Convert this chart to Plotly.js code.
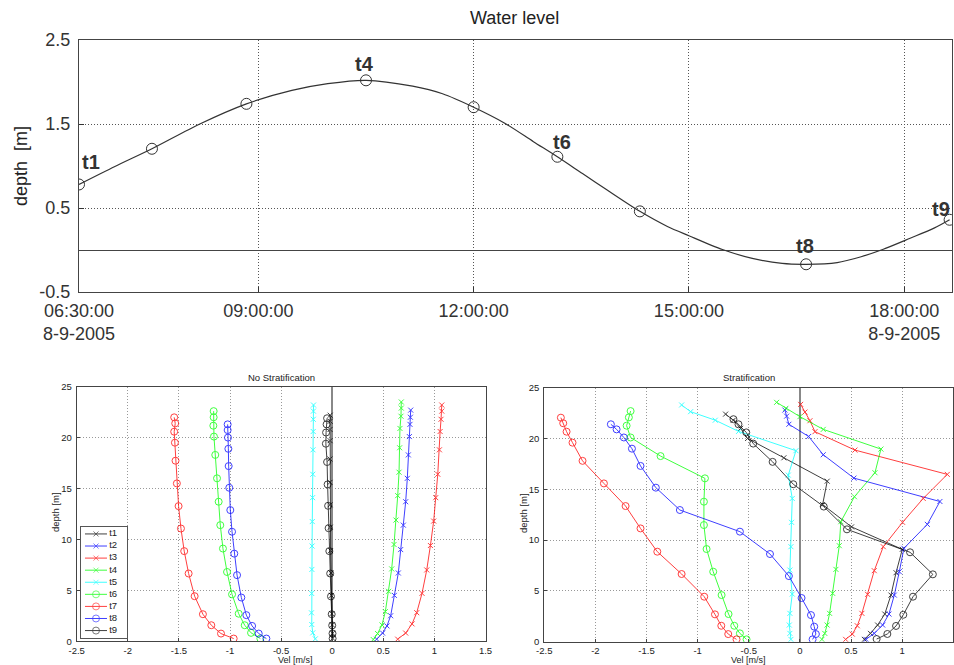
<!DOCTYPE html>
<html><head><meta charset="utf-8">
<script src="https://cdn.plot.ly/plotly-3.0.1.min.js"></script>
<style>html,body{margin:0;padding:0;background:#fff}#chart{width:954px;height:665px}</style>
</head><body><div id="chart"></div>
<script>
// ---------- Water level (top panel) ----------
const day = '2005-09-08 ';
const curveClock = ['06:30','07:00','07:31','08:11','08:50','09:28','09:58','10:30','11:09','11:34','12:00','12:26','12:50','13:10','13:31','13:51','14:19','14:42','15:00','15:28','15:53','16:18','16:38','17:04','17:24','17:42','18:05','18:25','18:38'];
const curveLevel = [0.78,0.994,1.205,1.50,1.74,1.90,1.98,2.02,1.95,1.86,1.70,1.51,1.29,1.11,0.91,0.72,0.46,0.28,0.17,0.006,-0.10,-0.16,-0.17,-0.15,-0.08,0.006,0.14,0.26,0.36];
const sampleNames = ['t1','t2','t3','t4','t5','t6','t7','t8','t9'];
const sampleClock = ['06:30','07:31','08:50','10:30','12:00','13:10','14:19','16:38','18:38'];
const sampleLevel = [0.78,1.205,1.74,2.02,1.70,1.11,0.46,-0.17,0.36];
const labelledSamples = ['t1','t4','t6','t8','t9'];
const timeTickClock = ['06:30','09:00','12:00','15:00','18:00'];
const timeTickText = ['06:30:00<br>8-9-2005','09:00:00','12:00:00','15:00:00','18:00:00<br>8-9-2005'];
const levelTicks = [-0.5,0.5,1.5,2.5];
const levelTickText = ['-0.5','0.5','1.5','2.5'];

// ---------- Velocity profiles ----------
const seriesColors = ['#000000','#0000ff','#ff0000','#00ff00','#00ffff','#00ff00','#ff0000','#0000ff','#000000'];
const seriesSymbols = ['x','x','x','x','x','o','o','o','o'];
const velTicks = [-2.5,-2,-1.5,-1,-0.5,0,0.5,1,1.5];
const velTickText = ['-2.5','-2','-1.5','-1','-0.5','0','0.5','1','1.5'];
const depthTicks = [0,5,10,15,20,25];

// No Stratification
const ns_t1_depth = [22.2,21.6,20.8,19.7,17.9,15.6,13.4,11.2,8.9,6.7,4.5,2.7,1.6,0.78,0.27];
const ns_t1_vel   = [-0.02,-0.02,-0.021,-0.021,-0.022,-0.022,-0.021,-0.019,-0.016,-0.012,-0.008,-0.003,0.001,0.004,0.006];
const ns_t2_depth = [22.7,22.0,21.3,20.1,18.3,16.0,13.7,11.4,9.0,6.7,4.5,2.5,1.5,0.8,0.2];
const ns_t2_vel   = [0.768,0.765,0.761,0.755,0.745,0.735,0.719,0.696,0.670,0.647,0.608,0.572,0.536,0.493,0.435];
const ns_t3_depth = [23.2,22.6,21.8,20.6,18.8,16.4,14.1,11.8,9.4,7.0,4.7,2.8,1.7,0.8,0.2];
const ns_t3_vel   = [1.072,1.072,1.065,1.056,1.049,1.033,1.013,0.993,0.961,0.925,0.879,0.827,0.781,0.719,0.641];
const ns_t4_depth = [23.5,22.9,22.1,20.9,19.0,16.6,14.3,11.9,9.5,7.1,4.9,2.9,1.6,0.75,0.16];
const ns_t4_vel   = [0.676,0.676,0.673,0.663,0.660,0.654,0.641,0.624,0.605,0.582,0.552,0.520,0.487,0.444,0.402];
const ns_t5_depth = [23.2,22.6,21.8,20.6,18.8,16.4,14.1,11.75,9.35,7.05,4.69,2.79,1.64,0.82,0.23];
const ns_t5_vel   = [-0.183,-0.184,-0.185,-0.186,-0.188,-0.190,-0.192,-0.195,-0.197,-0.199,-0.201,-0.203,-0.200,-0.190,-0.165];
const ns_t6_depth = [22.6,22.0,21.17,20.1,18.3,16.0,13.7,11.4,9.1,6.8,4.6,2.7,1.57,0.82,0.26];
const ns_t6_vel   = [-1.160,-1.160,-1.163,-1.157,-1.144,-1.127,-1.111,-1.095,-1.069,-1.029,-0.980,-0.915,-0.856,-0.794,-0.703];
const ns_t7_depth = [21.99,21.4,20.58,19.5,17.73,15.5,13.27,11.07,8.85,6.65,4.42,2.65,1.57,0.75,0.26];
const ns_t7_vel   = [-1.546,-1.536,-1.546,-1.539,-1.533,-1.520,-1.503,-1.480,-1.448,-1.405,-1.346,-1.265,-1.183,-1.088,-0.964];
const ns_t8_depth = [21.3,20.74,20.0,18.9,17.2,15.07,12.88,10.75,8.6,6.49,4.29,2.56,1.5,0.75,0.26];
const ns_t8_vel   = [-1.023,-1.023,-1.020,-1.016,-1.013,-1.007,-0.997,-0.980,-0.958,-0.931,-0.889,-0.840,-0.784,-0.719,-0.644];
const ns_t9_depth = [21.9,21.3,20.5,19.4,17.6,15.4,13.3,11.1,8.85,6.65,4.4,2.65,1.55,0.76,0.26];
const ns_t9_vel   = [-0.05,-0.055,-0.06,-0.062,-0.05,-0.045,-0.04,-0.035,-0.028,-0.02,-0.012,-0.005,0.0,0.003,0.004];

// Stratification
const st_t1_depth = [22.4,21.8,21.0,20.0,18.1,15.8,13.5,11.3,9.09,6.79,4.59,2.72,1.64,0.82,0.23];
const st_t1_vel   = [-0.727,-0.652,-0.58,-0.512,-0.157,0.267,0.222,0.505,1.001,0.94,0.89,0.83,0.76,0.69,0.63];
const st_t2_depth = [22.8,22.2,21.4,20.2,18.4,16.1,13.8,11.55,9.19,6.89,4.59,2.72,1.64,0.82,0.23];
const st_t2_vel   = [-0.147,-0.13,-0.108,0.085,0.228,0.528,1.369,1.246,1.017,0.972,0.923,0.871,0.809,0.727,0.646];
const st_t3_depth = [23.36,22.6,21.75,20.67,18.86,16.47,14.1,11.75,9.35,6.99,4.66,2.79,1.57,0.75,0.23];
const st_t3_vel   = [0.007,0.049,0.098,0.147,0.538,1.441,1.206,1.004,0.815,0.727,0.662,0.606,0.561,0.512,0.447];
const st_t4_depth = [23.56,22.97,22.15,20.9,18.96,16.63,14.27,11.81,9.45,7.12,4.76,2.79,1.64,0.82,0.23];
const st_t4_vel   = [-0.228,-0.137,0.0,0.228,0.792,0.734,0.533,0.40,0.385,0.352,0.32,0.29,0.266,0.243,0.215];
const st_t5_depth = [23.3,22.64,21.8,20.7,18.8,16.4,14.1,11.75,9.35,7.05,4.69,2.79,1.64,0.82,0.23];
const st_t5_vel   = [-1.157,-1.069,-0.828,-0.6,-0.039,-0.114,-0.075,-0.082,-0.088,-0.098,-0.075,-0.098,-0.104,-0.098,-0.088];
const st_t6_depth = [22.7,22.08,21.26,20.1,18.27,16.08,13.78,11.48,9.12,6.89,4.59,2.72,1.57,0.82,0.23];
const st_t6_vel   = [-1.656,-1.673,-1.695,-1.656,-1.363,-0.929,-0.939,-0.939,-0.913,-0.848,-0.766,-0.698,-0.642,-0.587,-0.522];
const st_t7_depth = [22.05,21.5,20.67,19.59,17.8,15.58,13.35,11.15,8.86,6.66,4.43,2.69,1.57,0.75,0.23];
const st_t7_vel   = [-2.338,-2.315,-2.282,-2.224,-2.126,-1.917,-1.705,-1.559,-1.395,-1.157,-0.936,-0.831,-0.769,-0.701,-0.620];
const st_t8_depth = [21.4,20.9,20.1,19.0,17.3,15.16,12.96,10.83,8.63,6.46,4.30,2.62,1.48,0.75,0.23];
const st_t8_vel   = [-1.849,-1.793,-1.722,-1.643,-1.559,-1.409,-1.174,-0.587,-0.293,-0.108,0.016,0.108,0.140,0.156,0.124];
const st_t9_depth = [21.9,21.4,20.6,19.5,17.7,15.5,13.3,11.06,8.8,6.63,4.43,2.65,1.55,0.76,0.26];
const st_t9_vel   = [-0.650,-0.601,-0.525,-0.457,-0.267,-0.065,0.233,0.46,1.077,1.30,1.106,1.011,0.94,0.855,0.75];

const nsDepth = [ns_t1_depth,ns_t2_depth,ns_t3_depth,ns_t4_depth,ns_t5_depth,ns_t6_depth,ns_t7_depth,ns_t8_depth,ns_t9_depth];
const nsVel   = [ns_t1_vel,ns_t2_vel,ns_t3_vel,ns_t4_vel,ns_t5_vel,ns_t6_vel,ns_t7_vel,ns_t8_vel,ns_t9_vel];
const stDepth = [st_t1_depth,st_t2_depth,st_t3_depth,st_t4_depth,st_t5_depth,st_t6_depth,st_t7_depth,st_t8_depth,st_t9_depth];
const stVel   = [st_t1_vel,st_t2_vel,st_t3_vel,st_t4_vel,st_t5_vel,st_t6_vel,st_t7_vel,st_t8_vel,st_t9_vel];

// ---------- build ----------
const FONT = 'Liberation Sans, Arial, sans-serif';
const traces = [];
traces.push({x: curveClock.map(c => day + c), y: curveLevel, xaxis:'x', yaxis:'y', mode:'lines',
  line:{color:'#333', width:1.2, shape:'spline', smoothing:0.8}, hoverinfo:'skip'});
traces.push({x: sampleClock.map(c => day + c), y: sampleLevel, xaxis:'x', yaxis:'y', mode:'markers',
  marker:{symbol:'circle-open', size:11, color:'#333', line:{width:1, color:'#333'}}, hoverinfo:'skip'});

function symbolOf(s){ return s === 'x' ? 'x-thin-open' : 'circle-open'; }
function sizeOf(s){ return s === 'x' ? 5 : 7; }
function addProfiles(depths, vels, xa, ya){
  for (let i = 0; i < sampleNames.length; i++) {
    const c = seriesColors[i];
    traces.push({x: vels[i], y: depths[i], xaxis: xa, yaxis: ya, mode:'lines+markers',
      opacity: 0.75,
      line:{color:c, width:1},
      marker:{symbol: symbolOf(seriesSymbols[i]), size: sizeOf(seriesSymbols[i]), color:c, line:{color:c, width:1}},
      hoverinfo:'skip'});
  }
}
addProfiles(nsDepth, nsVel, 'x2', 'y2');
addProfiles(stDepth, stVel, 'x3', 'y3');

// legend drawn in its own small subplot (x4/y4)
for (let i = 0; i < sampleNames.length; i++) {
  const c = seriesColors[i];
  traces.push({x:[4.3, 15.3, 26.3], y:[i, i, i], xaxis:'x4', yaxis:'y4', mode:'lines+markers', opacity:0.75,
    line:{color:c, width:1},
    marker:{symbol: symbolOf(seriesSymbols[i]), size:[0, sizeOf(seriesSymbols[i]), 0], color:c, line:{color:c, width:1}},
    hoverinfo:'skip'});
}
traces.push({x: sampleNames.map(() => 28.5), y: sampleNames.map((_, i) => i), text: sampleNames, xaxis:'x4', yaxis:'y4',
  mode:'text', textposition:'middle right', textfont:{family:FONT, size:9.5, color:'#222'}, hoverinfo:'skip'});

const annotations = [];
labelledSamples.forEach(name => {
  const i = sampleNames.indexOf(name);
  const shift = {t1:[12,22], t4:[-2,16], t6:[5,15], t8:[-1,18], t9:[-9,11]}[name];
  annotations.push({x: day + sampleClock[i], y: sampleLevel[i], xref:'x', yref:'y', text: name, showarrow:false,
    xshift: shift[0], yshift: shift[1], font:{family:FONT, size:20, color:'#333', weight:'bold'}});
});
function paperText(text, px, py, size, angle){
  annotations.push({text, x: px/954, y: 1 - py/665, xref:'paper', yref:'paper', showarrow:false,
    xanchor:'center', yanchor:'middle', textangle: angle || 0, font:{family:FONT, size, color:'#222'}});
}
paperText('Water level', 514, 18, 18);
paperText('depth  [m]', 21, 166, 18, -90);
paperText('No Stratification', 281, 377, 9.5);
paperText('Stratification', 748.7, 377, 9.5);
paperText('depth [m]', 55, 512, 9.5, -90);
paperText('depth [m]', 523, 513, 9.5, -90);
paperText('Vel [m/s]', 295, 659.5, 9);
paperText('Vel [m/s]', 748.7, 659.5, 9);

const frame = {showline:true, mirror:true, linecolor:'#444', linewidth:1};
function velAxis(domain, anchor){
  return Object.assign({domain, anchor, range:[-2.5,1.5], tickmode:'array', tickvals: velTicks, ticktext: velTickText,
    showgrid:true, gridcolor:'#999', griddash:'1px,2px', gridwidth:1, zeroline:true, zerolinecolor:'#888', zerolinewidth:1.5,
    ticks:'inside', ticklen:3, tickcolor:'#444', tickfont:{family:FONT, size:9.5, color:'#222'}, ticklabelstandoff:0, fixedrange:true}, frame);
}
function depthAxis(domain, anchor){
  return Object.assign({domain, anchor, range:[0,25], tickmode:'array', tickvals: depthTicks,
    showgrid:true, gridcolor:'#999', griddash:'1px,2px', gridwidth:1, zeroline:false,
    ticks:'inside', ticklen:3, tickcolor:'#444', tickfont:{family:FONT, size:9.5, color:'#222'}, ticklabelstandoff:2, fixedrange:true}, frame);
}

const layout = {
  width:954, height:665, margin:{l:0, r:0, t:0, b:0},
  paper_bgcolor:'#fff', plot_bgcolor:'#fff', showlegend:false, hovermode:false,
  font:{family:FONT},
  xaxis: Object.assign({domain:[79/954, 952/954], anchor:'y', type:'date',
    range:[day + '06:30', day + '18:40'], tickmode:'array', tickvals: timeTickClock.map(c => day + c), ticktext: timeTickText,
    showgrid:true, gridcolor:'#555', griddash:'1px,2px', gridwidth:1, zeroline:false,
    ticks:'inside', ticklen:5, tickcolor:'#333', tickfont:{family:FONT, size:18, color:'#333'}, ticklabelstandoff:2, fixedrange:true}, frame),
  yaxis: Object.assign({domain:[(665-292)/665, (665-40)/665], anchor:'x', range:[-0.5,2.5], tickmode:'array',
    tickvals: levelTicks, ticktext: levelTickText,
    showgrid:true, gridcolor:'#555', griddash:'1px,2px', gridwidth:1, zeroline:true, zerolinecolor:'#444', zerolinewidth:1,
    ticks:'inside', ticklen:5, tickcolor:'#333', tickfont:{family:FONT, size:18, color:'#333'}, ticklabelstandoff:4, fixedrange:true}, frame),
  xaxis2: velAxis([76.7/954, 485.5/954], 'y2'),
  yaxis2: depthAxis([(665-641.2)/665, (665-386.7)/665], 'x2'),
  xaxis3: velAxis([544.3/954, 953.3/954], 'y3'),
  yaxis3: depthAxis([(665-641.7)/665, (665-387.7)/665], 'x3'),
  xaxis4: {domain:[80.7/954, 126.7/954], anchor:'y4', range:[0,46], showline:true, mirror:true, linecolor:'#555', linewidth:1,
    showgrid:false, zeroline:false, showticklabels:false, ticks:'', fixedrange:true},
  yaxis4: {domain:[(665-638.3)/665, (665-526.7)/665], anchor:'x4', range:[8.64,-0.6], showline:true, mirror:true, linecolor:'#555', linewidth:1,
    showgrid:false, zeroline:false, showticklabels:false, ticks:'', fixedrange:true},
  annotations
};

Plotly.newPlot('chart', traces, layout, {staticPlot:true, displayModeBar:false});
</script>
</body></html>
